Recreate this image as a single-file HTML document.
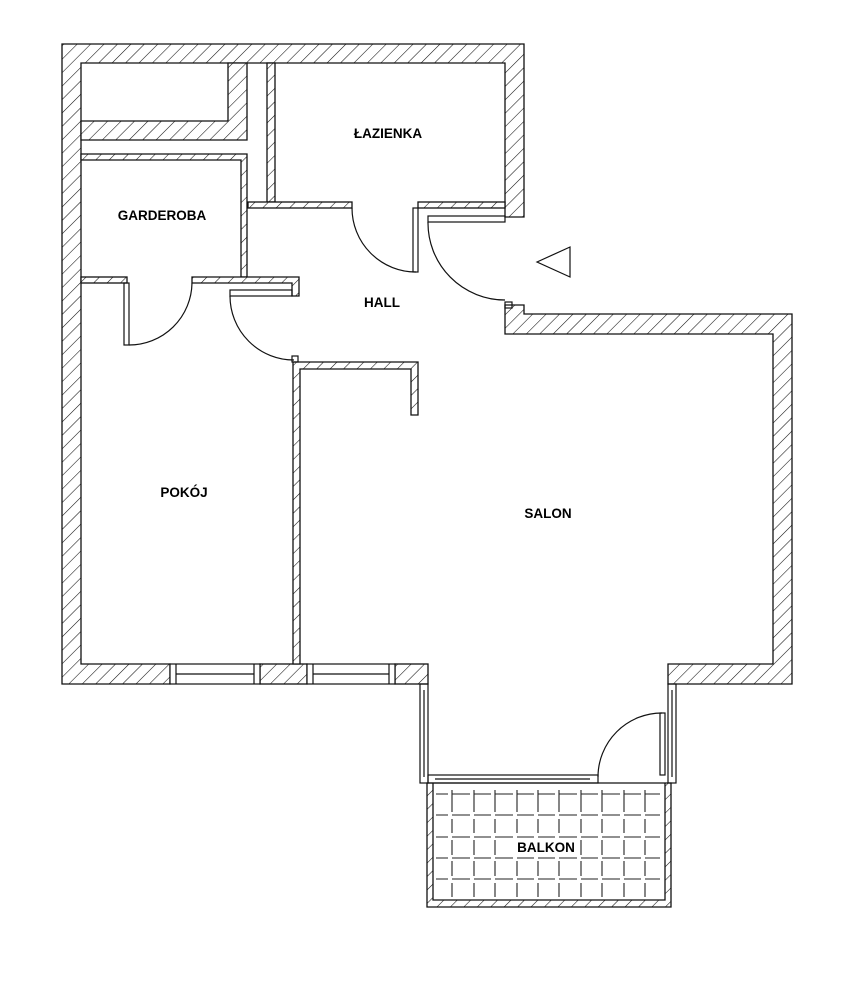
<!DOCTYPE html>
<html><head><meta charset="utf-8"><style>
html,body{margin:0;padding:0;background:#fff;}
svg{display:block;}
text{font-family:"Liberation Sans",Arial,sans-serif;font-weight:bold;font-size:13.5px;fill:#000;}
</style></head><body>
<svg width="852" height="984" viewBox="0 0 852 984" xmlns="http://www.w3.org/2000/svg">
<defs>
<pattern id="h" patternUnits="userSpaceOnUse" width="9.5" height="9.5" patternTransform="rotate(45)">
<rect width="9.5" height="9.5" fill="#fff"/>
<line x1="0" y1="0" x2="0" y2="9.5" stroke="#111" stroke-width="1.1"/>
</pattern>
</defs>
<g fill="url(#h)" stroke="#111" stroke-width="1.3">
<path d="M62,44 L524,44 L524,217 L505,217 L505,63 L81,63 L81,664 L170,664 L170,684 L62,684 Z"/>
<path d="M505,305 L524,305 L524,314 L792,314 L792,684 L668,684 L668,664 L773,664 L773,334 L505,334 Z"/>
<rect x="260" y="664" width="47" height="20"/>
<rect x="395" y="664" width="33" height="20"/>
<path d="M81,121 L228,121 L228,63 L247,63 L247,140 L81,140 Z"/>
<path d="M81,154 L247,154 L247,277 L241,277 L241,160 L81,160 Z"/>
<rect x="81" y="277" width="46" height="6"/>
<path d="M192,277 L299,277 L299,296 L292,296 L292,283 L192,283 Z"/>
<rect x="267" y="63" width="8" height="139"/>
<rect x="248" y="202" width="104" height="6"/>
<rect x="418" y="202" width="87" height="6"/>
<path d="M293,362 L418,362 L418,415 L411,415 L411,369 L300,369 L300,664 L293,664 Z"/>
<path d="M427,783 L671,783 L671,907 L427,907 Z M433,783 L433,900 L665,900 L665,783 Z" fill-rule="evenodd"/>
</g>
<g fill="none" stroke="#111" stroke-width="1.2">
<rect x="170" y="664" width="90" height="20" fill="#fff"/>
<line x1="176" y1="664" x2="176" y2="684"/><line x1="254" y1="664" x2="254" y2="684"/>
<line x1="176" y1="674" x2="254" y2="674"/>
<rect x="307" y="664" width="88" height="20" fill="#fff"/>
<line x1="313" y1="664" x2="313" y2="684"/><line x1="389" y1="664" x2="389" y2="684"/>
<line x1="313" y1="674" x2="389" y2="674"/>
<rect x="420" y="684" width="8" height="99"/><line x1="424" y1="690" x2="424" y2="777"/>
<rect x="668" y="684" width="8" height="99"/><line x1="672" y1="690" x2="672" y2="777"/>
<rect x="428" y="775" width="170" height="8"/><line x1="435" y1="779" x2="590" y2="779"/>
<rect x="230" y="290" width="62" height="6"/>
<rect x="428" y="216" width="77" height="6"/>
<rect x="505" y="302" width="7" height="6"/>
<rect x="292" y="356" width="6" height="6"/>
<rect x="413" y="208" width="5" height="64"/>
<rect x="124" y="283" width="5" height="62"/>
<rect x="660" y="713" width="5" height="62"/>
<path d="M352,208 A64,64 0 0 0 416,272"/>
<path d="M192,283 A63,63 0 0 1 129,345"/>
<path d="M230,296 A64,64 0 0 0 294,360"/>
<path d="M428,222 A77,77 0 0 0 505,300"/>
<path d="M598,777 A64,64 0 0 1 662,713"/>
<polygon points="537,262 570,247 570,277"/>
</g>
<g stroke="#222" stroke-width="1.1" fill="none">
<path d="
M452,790 V812 M474,790 V812 M495,790 V812 M517,790 V812 M538,790 V812 M559,790 V812 M581,790 V812 M602,790 V812 M624,790 V812 M645,790 V812
M452,819 V833 M474,819 V833 M495,819 V833 M517,819 V833 M538,819 V833 M559,819 V833 M581,819 V833 M602,819 V833 M624,819 V833 M645,819 V833
M452,840 V855 M474,840 V855 M495,840 V855 M517,840 V855 M538,840 V855 M559,840 V855 M581,840 V855 M602,840 V855 M624,840 V855 M645,840 V855
M452,861 V876 M474,861 V876 M495,861 V876 M517,861 V876 M538,861 V876 M559,861 V876 M581,861 V876 M602,861 V876 M624,861 V876 M645,861 V876
M452,883 V897 M474,883 V897 M495,883 V897 M517,883 V897 M538,883 V897 M559,883 V897 M581,883 V897 M602,883 V897 M624,883 V897 M645,883 V897
"/>
<path d="
M436,794 H448 M452,794 H470 M474,794 H491 M495,794 H513 M517,794 H534 M538,794 H555 M559,794 H577 M581,794 H598 M602,794 H620 M624,794 H641 M645,794 H660
M436,815 H448 M452,815 H470 M474,815 H491 M495,815 H513 M517,815 H534 M538,815 H555 M559,815 H577 M581,815 H598 M602,815 H620 M624,815 H641 M645,815 H660
M436,837 H448 M452,837 H470 M474,837 H491 M495,837 H513 M517,837 H534 M538,837 H555 M559,837 H577 M581,837 H598 M602,837 H620 M624,837 H641 M645,837 H660
M436,858 H448 M452,858 H470 M474,858 H491 M495,858 H513 M517,858 H534 M538,858 H555 M559,858 H577 M581,858 H598 M602,858 H620 M624,858 H641 M645,858 H660
M436,879 H448 M452,879 H470 M474,879 H491 M495,879 H513 M517,879 H534 M538,879 H555 M559,879 H577 M581,879 H598 M602,879 H620 M624,879 H641 M645,879 H660
"/>
</g>
<rect x="514" y="838" width="64" height="17" fill="#fff"/>
<text x="388" y="138" text-anchor="middle">ŁAZIENKA</text>
<text x="162" y="220" text-anchor="middle">GARDEROBA</text>
<text x="382" y="307" text-anchor="middle">HALL</text>
<text x="184" y="497" text-anchor="middle">POKÓJ</text>
<text x="548" y="518" text-anchor="middle">SALON</text>
<text x="546" y="852" text-anchor="middle">BALKON</text>
</svg>
</body></html>
